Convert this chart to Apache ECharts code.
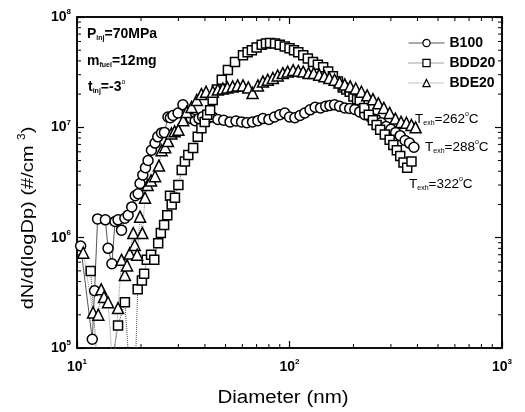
<!DOCTYPE html>
<html>
<head>
<meta charset="utf-8">
<script src="https://cdn.jsdelivr.net/npm/echarts@6/dist/echarts.min.js"></script>
<style>
  html, body { margin: 0; padding: 0; background: #fff; }
  #main { width: 525px; height: 412px; }
</style>
</head>
<body>
<div id="main"></div>
<script>
// 粒径 (nm) 与 数浓度 dN/dlogDp
var b100D = [10.4, 11.8, 12.1, 12.5, 13.6, 14.0, 14.6, 15.1, 15.6, 16.2, 16.8, 17.4, 18.1, 18.8, 19.4, 19.8, 20.4, 21.0, 21.6, 22.4,
  23.3, 24.0, 25.0, 25.8, 26.8, 27.5, 28.3, 29.9, 31.5, 33.0, 34.5, 36.0, 37.5, 39.0, 41.0, 43.5, 46.0, 49.0, 52.5, 56.0,
  59.5, 63.0, 67.0, 71.0, 75.0, 80.0, 85.0, 90.0, 95.0, 100, 106, 112, 118, 125, 132, 140, 148, 155, 163, 172,
  182, 192, 203, 214, 226, 240, 255, 270, 285, 300, 316, 332, 350, 367, 385];
var b100N = [8.4e5, 1.2e5, 3.3e5, 1.48e6, 1.45e6, 8.0e5, 5.8e5, 1.4e6, 1.45e6, 1.17e6, 1.5e6, 1.6e6, 1.9e6, 2.4e6, 2.5e6, 3.1e6, 3.7e6, 4.3e6, 5.0e6, 6.2e6,
  7.2e6, 8.2e6, 8.9e6, 9.0e6, 1.24e7, 1.22e7, 1.28e7, 1.35e7, 1.6e7, 1.35e7, 1.2e7, 1.15e7, 1.2e7, 1.25e7, 1.2e7, 1.24e7, 1.18e7, 1.16e7, 1.12e7, 1.14e7,
  1.12e7, 1.1e7, 1.12e7, 1.15e7, 1.2e7, 1.18e7, 1.24e7, 1.3e7, 1.35e7, 1.24e7, 1.22e7, 1.28e7, 1.35e7, 1.44e7, 1.52e7, 1.5e7, 1.55e7, 1.58e7, 1.6e7, 1.55e7,
  1.5e7, 1.48e7, 1.45e7, 1.38e7, 1.3e7, 1.24e7, 1.18e7, 1.1e7, 1.02e7, 9.6e6, 9.0e6, 8.4e6, 7.6e6, 7.2e6, 6.6e6];

var bdd20D = [11.6, 12.4, 13.4, 14.5, 15.6, 16.8, 17.8, 18.6, 19.3, 20.2, 20.7, 21.3, 22.3, 23.1, 24.1, 24.8, 25.7, 26.6, 27.4, 27.9,
  28.9, 30.0, 31.1, 32.2, 33.4, 35.2, 37.0, 38.5, 39.9, 41.0, 42.3, 43.5, 45.5, 48.0, 51.3, 55.4, 60.4, 63.5, 66.5, 70.0,
  74.0, 77.5, 81.0, 85.5, 90.0, 95.0, 100, 105, 110, 116, 122, 129, 136, 144, 152, 160, 169, 178, 185, 192,
  200, 208, 214, 225, 236, 247, 257, 267, 281, 296, 308, 320, 332, 344, 358, 375];
var bdd20N = [5e5, 8e4, 4e4, 7e4, 1.6e5, 2.6e5, 5e4, 3e4, 3.4e5, 4.1e5, 4.7e5, 6.3e5, 7.0e5, 6.3e5, 8.9e5, 1.1e6, 1.3e6, 1.6e6, 2.4e6, 2.0e6,
  2.3e6, 3.0e6, 4.1e6, 4.9e6, 5.6e6, 6.5e6, 8.2e6, 9.8e6, 1.12e7, 1.3e7, 1.43e7, 1.77e7, 2.2e7, 2.7e7, 3.3e7, 3.9e7, 4.5e7, 4.8e7, 5.0e7, 5.3e7,
  5.6e7, 5.75e7, 5.8e7, 5.75e7, 5.6e7, 5.4e7, 5.2e7, 5.0e7, 4.8e7, 4.5e7, 4.2e7, 3.9e7, 3.7e7, 3.5e7, 3.2e7, 2.9e7, 2.6e7, 2.3e7, 2.2e7, 2.1e7,
  1.9e7, 1.8e7, 1.77e7, 1.5e7, 1.3e7, 1.16e7, 1.05e7, 9.5e6, 8.6e6, 7.7e6, 6.9e6, 6.2e6, 5.5e6, 4.8e6, 4.3e6, 4.9e6];

var bde20D = [10.7, 11.9, 12.6, 13.0, 13.4, 14.0, 14.8, 15.6, 16.2, 16.8, 17.2, 17.7, 18.4, 18.7, 19.2, 19.8, 20.3, 20.9, 21.5, 22.3,
  23.3, 24.3, 25.0, 26.0, 26.8, 27.8, 28.8, 30.0, 31.6, 32.8, 34.6, 36.6, 38.5, 40.5, 43.6, 46.0, 48.6, 51.0, 54.0, 57.0,
  60.4, 64.0, 67.0, 71.0, 75.0, 79.0, 83.5, 88.0, 93.0, 98.0, 104, 110, 116, 123, 130, 138, 146, 154, 163, 172,
  182, 193, 205, 218, 232, 247, 262, 278, 296, 315, 335, 355, 375, 392];
var bde20N = [7.3e5, 2.1e5, 2.0e5, 3.4e5, 2.9e5, 2.6e5, 6e4, 2.3e5, 6.3e5, 4.6e5, 5.6e5, 7.2e5, 1.1e6, 8.6e5, 7e5, 1.55e6, 1.1e6, 2.3e6, 3.0e6, 3.3e6,
  3.6e6, 4.5e6, 6.2e6, 6.6e6, 7.5e6, 8.8e6, 9.2e6, 9.5e6, 1.16e7, 1.38e7, 1.53e7, 1.77e7, 2.0e7, 2.1e7, 2.1e7, 2.2e7, 2.25e7, 2.3e7, 2.35e7, 2.4e7,
  2.4e7, 2.3e7, 2.05e7, 2.4e7, 2.6e7, 2.7e7, 2.8e7, 2.95e7, 3.1e7, 3.2e7, 3.3e7, 3.25e7, 3.2e7, 3.1e7, 3.1e7, 3.0e7, 2.9e7, 2.8e7, 2.7e7, 2.55e7,
  2.45e7, 2.35e7, 2.25e7, 2.1e7, 1.95e7, 1.8e7, 1.65e7, 1.5e7, 1.35e7, 1.2e7, 1.12e7, 1.1e7, 1.05e7, 1.0e7];

var seriesNames = ['B100', 'BDD20', 'BDE20'];
// 对数轴次刻度
var xMinorTicks = [20, 30, 40, 50, 60, 70, 80, 90, 200, 300, 400, 500, 600, 700, 800, 900];
var yMinorTicks = [2e5, 3e5, 4e5, 5e5, 6e5, 7e5, 8e5, 9e5, 2e6, 3e6, 4e6, 5e6, 6e6, 7e6, 8e6, 9e6, 2e7, 3e7, 4e7, 5e7, 6e7, 7e7, 8e7, 9e7];

var FONT = '"Liberation Sans", Arial, sans-serif';

function pairs(xs, ys) {
  return xs.map(function (x, i) { return [x, ys[i]]; });
}

function powLabel(value) {
  var e = Math.round(Math.log10(value));
  return '{b|10}{s|' + e + '}';
}

var powRich = {
  b: { fontFamily: FONT, fontWeight: 'bold', fontSize: 14, color: '#000' },
  s: { fontFamily: FONT, fontWeight: 'bold', fontSize: 8, color: '#000', padding: [0, 0, 10, 0] }
};

function makeSeries(name, data, symbol, size, lineType, lineColor) {
  return {
    name: name,
    type: 'line',
    data: data,
    symbol: symbol,
    symbolSize: size,
    showAllSymbol: true,
    clip: true,
    lineStyle: { color: lineColor, width: 1, type: lineType },
    itemStyle: { color: '#fff', borderColor: '#000', borderWidth: 1.5 },
    emphasis: { disabled: true },
    animation: false
  };
}

// 带上下标的文字
function subText(x, y, parts, size, bold) {
  var w = bold ? 'bold' : 'normal';
  return {
    type: 'text', left: x, top: y,
    style: {
      text: parts,
      rich: {
        m: { fontFamily: FONT, fontWeight: w, fontSize: size, fill: '#000' },
        s: { fontFamily: FONT, fontWeight: w, fontSize: 7, fill: '#000', padding: [9, 0, 0, 0] },
        o: { fontFamily: FONT, fontSize: 7, fill: '#000', padding: [0, 0, 9, 0] }
      }
    }
  };
}

var chart = echarts.init(document.getElementById('main'), null, { renderer: 'canvas' });

var option = {
  backgroundColor: '#fff',
  animation: false,
  grid: { left: 77, right: 23, top: 17, bottom: 64, show: true, borderColor: '#000', borderWidth: 1.5 },
  legend: {
    left: 403,
    top: 30,
    orient: 'vertical',
    itemWidth: 36,
    itemHeight: 9,
    itemGap: 4,
    data: seriesNames,
    lineStyle: { width: 1 },
    itemStyle: { borderWidth: 1.2 },
    textStyle: { fontFamily: FONT, fontWeight: 'bold', fontSize: 14, color: '#000', lineHeight: 16 }
  },
  xAxis: [{
    type: 'log',
    logBase: 10,
    min: 10,
    max: 1000,
    axisLine: { lineStyle: { color: '#000', width: 1.5 } },
    axisTick: { inside: true, length: 7, lineStyle: { color: '#000', width: 1.2 } },
    axisLabel: { formatter: powLabel, rich: powRich, margin: 10 },
    splitLine: { show: false }
  }, {
    type: 'log', logBase: 10, min: 10, max: 1000, position: 'top',
    axisLine: { lineStyle: { color: '#000', width: 1.5 } },
    axisTick: { inside: true, length: 7, lineStyle: { color: '#000', width: 1.2 } },
    axisLabel: { show: false },
    splitLine: { show: false }
  }],
  yAxis: [{
    type: 'log',
    logBase: 10,
    min: 1e5,
    max: 1e8,
    axisLine: { lineStyle: { color: '#000', width: 1.5 } },
    axisTick: { inside: true, length: 7, lineStyle: { color: '#000', width: 1.2 } },
    axisLabel: { formatter: powLabel, rich: powRich, margin: 6 },
    splitLine: { show: false }
  }, {
    type: 'log', logBase: 10, min: 1e5, max: 1e8, position: 'right',
    axisLine: { lineStyle: { color: '#000', width: 1.5 } },
    axisTick: { inside: true, length: 7, lineStyle: { color: '#000', width: 1.2 } },
    axisLabel: { show: false },
    splitLine: { show: false }
  }],
  series: [
    makeSeries('B100', pairs(b100D, b100N), 'circle', 10, 'solid', '#555'),
    makeSeries('BDD20', pairs(bdd20D, bdd20N), 'rect', 9, 'dotted', '#444'),
    makeSeries('BDE20', pairs(bde20D, bde20N), 'triangle', 11, 'dotted', '#888'),
    {
      // x 次刻度 (上下)
      type: 'custom',
      silent: true,
      data: xMinorTicks.map(function (v) { return [v, 1e5]; }),
      renderItem: function (params, api) {
        var cs = params.coordSys;
        var p = api.coord([api.value(0), 1e5]);
        return {
          type: 'group',
          children: [
            { type: 'line', shape: { x1: p[0], y1: cs.y + cs.height, x2: p[0], y2: cs.y + cs.height - 4 }, style: { stroke: '#000', lineWidth: 1 } },
            { type: 'line', shape: { x1: p[0], y1: cs.y, x2: p[0], y2: cs.y + 4 }, style: { stroke: '#000', lineWidth: 1 } }
          ]
        };
      }
    },
    {
      // y 次刻度 (左右)
      type: 'custom',
      silent: true,
      data: yMinorTicks.map(function (v) { return [10, v]; }),
      renderItem: function (params, api) {
        var cs = params.coordSys;
        var p = api.coord([10, api.value(1)]);
        return {
          type: 'group',
          children: [
            { type: 'line', shape: { x1: cs.x, y1: p[1], x2: cs.x + 4, y2: p[1] }, style: { stroke: '#000', lineWidth: 1 } },
            { type: 'line', shape: { x1: cs.x + cs.width, y1: p[1], x2: cs.x + cs.width - 4, y2: p[1] }, style: { stroke: '#000', lineWidth: 1 } }
          ]
        };
      }
    }
  ],
  graphic: [
    subText(87, 27, '{m|P}{s|inj}{m|=70MPa}', 14, true),
    subText(87, 54, '{m|m}{s|fuel}{m|=12mg}', 14, true),
    subText(88, 79, '{m|t}{s|inj}{m|=-3}{o|o}', 14, true),
    subText(415, 111, '{m|T}{s|exh}{m|=262}{o|o}{m|C}', 13.5, false),
    subText(425, 139, '{m|T}{s|exh}{m|=288}{o|o}{m|C}', 13.5, false),
    subText(409, 176, '{m|T}{s|exh}{m|=322}{o|o}{m|C}', 13.5, false),
    {
      // x 轴标题
      type: 'text', x: 283, y: 398, scaleX: 1.14,
      style: { text: 'Diameter (nm)', font: '18px ' + FONT, fill: '#000', align: 'center', verticalAlign: 'middle' }
    },
    {
      // y 轴标题 (竖排)
      type: 'text', x: 28, y: 218, rotation: Math.PI / 2, scaleX: 1.18,
      style: {
        text: '{t|dN/d(logDp) (#/cm }{s|3}{t|)}',
        align: 'center', verticalAlign: 'middle',
        rich: {
          t: { fontFamily: FONT, fontSize: 17, fill: '#000' },
          s: { fontFamily: FONT, fontSize: 10, fill: '#000', padding: [0, 0, 12, 0] }
        }
      }
    }
  ]
};

chart.setOption(option);
</script>
</body>
</html>
